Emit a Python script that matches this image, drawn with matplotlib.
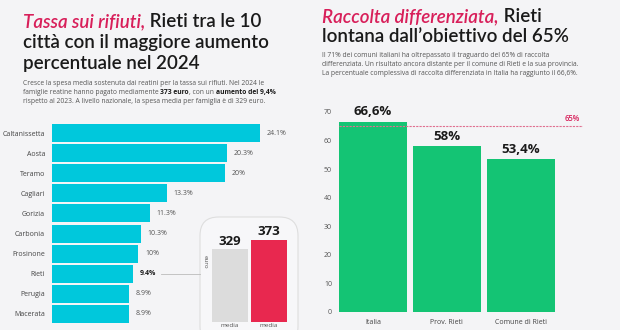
import matplotlib
matplotlib.use("Agg")
import matplotlib.pyplot as plt
from matplotlib.patches import FancyBboxPatch

# ---------------- data ----------------
cities = ["Caltanissetta", "Aosta", "Teramo", "Cagliari", "Gorizia",
          "Carbonia", "Frosinone", "Rieti", "Perugia", "Macerata"]
increase = [24.1, 20.3, 20.0, 13.3, 11.3, 10.3, 10.0, 9.4, 8.9, 8.9]
increase_labels = ["24.1%", "20.3%", "20%", "13.3%", "11.3%",
                   "10.3%", "10%", "9.4%", "8.9%", "8.9%"]

spend_cats = ["media", "media"]
spend_vals = [329, 373]

diff_cats = ["Italia", "Prov. Rieti", "Comune di Rieti"]
diff_vals = [66.6, 58.0, 53.4]
diff_labels = ["66,6%", "58%", "53,4%"]
target = 65
diff_ticks = [0, 10, 20, 30, 40, 50, 60, 70]

# ---------------- style ----------------
BG = "#f4f4f6"
CYAN = "#00c8dc"
GREEN = "#14c474"
RED = "#e8284f"
GREY = "#dcdcdc"
PINK = "#d81f5a"
FONT = ["Open Sans", "DejaVu Sans"]
TFONT = ["Lato", "DejaVu Sans"]
plt.rcParams["font.family"] = FONT

W, H = 620, 330
fig = plt.figure(figsize=(W / 100, H / 100), dpi=100, facecolor=BG)


def px_axes(x0, y0, x1, y1, z=1):
    """axes from pixel box (top-left origin)"""
    ax = fig.add_axes([x0 / W, 1 - y1 / H, (x1 - x0) / W, (y1 - y0) / H])
    ax.set_zorder(z)
    return ax


def fx(x):
    return x / W


def fy(y):
    return 1 - y / H


def seq(x, y, parts, size, family=FONT):
    last = None
    for s, kw in parts:
        if last is None:
            last = fig.text(fx(x), fy(y), s, fontsize=size, va="bottom", ha="left",
                            family=family, **kw)
        else:
            last = fig.add_artist(plt.Annotation(s, xy=(1, 0), xycoords=last, va="bottom",
                                                 ha="left", fontsize=size, family=family, **kw))


# ---------------- left titles ----------------
TSIZE = 13.5
TW = "semibold"
seq(23, 30, [("Tassa sui rifiuti,", dict(color=PINK, style="italic", weight=TW)),
             (" Rieti tra le 10", dict(color="#1a1a1a", weight=TW))], TSIZE, TFONT)
fig.text(fx(23), fy(51), "città con il maggiore aumento", fontsize=TSIZE, va="bottom",
         color="#1a1a1a", weight=TW, family=TFONT)
fig.text(fx(23), fy(72), "percentuale nel 2024", fontsize=TSIZE, va="bottom",
         color="#1a1a1a", weight=TW, family=TFONT)

SSIZE = 4.9
SC = "#555555"
fig.text(fx(23), fy(87), "Cresce la spesa media sostenuta dai reatini per la tassa sui rifiuti. Nel 2024 le",
         fontsize=SSIZE, va="bottom", color=SC)
seq(23, 96, [("famiglie reatine hanno pagato mediamente ", dict(color=SC)),
             ("373 euro", dict(color="#1a1a1a", weight="bold")),
             (", con un ", dict(color=SC)),
             ("aumento del 9,4%", dict(color="#1a1a1a", weight="bold"))], SSIZE)
fig.text(fx(23), fy(105), "rispetto al 2023. A livello nazionale, la spesa media per famiglia è di 329 euro.",
         fontsize=SSIZE, va="bottom", color=SC)

# ---------------- left bar chart ----------------
axL = px_axes(52, 123, 300, 324)
axL.set_facecolor("none")
ypos = list(range(len(cities)))
axL.barh(ypos, increase, height=0.9, color=CYAN)
axL.set_xlim(0, 248 / 8.63)
axL.set_ylim(len(cities) - 0.5, -0.5)
for sp in axL.spines.values():
    sp.set_visible(False)
axL.set_xticks([])
axL.set_yticks(ypos)
axL.set_yticklabels(cities, fontsize=5, color="#444444")
axL.tick_params(axis="y", length=0, pad=5)
for i, (v, lab) in enumerate(zip(increase, increase_labels)):
    bold = cities[i] == "Rieti"
    axL.text(v + 0.8, i, lab, fontsize=5, va="center", ha="left",
             color="#1a1a1a" if bold else "#555555", weight="bold" if bold else "normal")

# connector line
fig.add_artist(plt.Line2D([fx(161), fx(200)], [fy(274), fy(274)], color="#bbbbbb", lw=0.6))

# inset box
box = FancyBboxPatch((fx(200), fy(345)), fx(98), (345 - 217) / H,
                     boxstyle="round,pad=0,rounding_size=0.03", transform=fig.transFigure,
                     facecolor="#f7f7f9", edgecolor="#dedede", lw=0.8, mutation_aspect=W / H,
                     zorder=-1)
fig.add_artist(box)

axI = px_axes(211.3, 217, 287.7, 322, z=2)
axI.set_facecolor("none")
axI.bar([0, 1], spend_vals, width=0.92, color=[GREY, RED])
axI.set_xlim(-0.48, 1.48)
axI.set_ylim(0, 105 / 0.221)
axI.axis("off")
for i, v in enumerate(spend_vals):
    axI.text(i, v + 8, str(v), fontsize=9.5, weight="bold", ha="center", va="bottom",
             color="#1a1a1a")
fig.text(fx(205), fy(262), "euro", rotation=-90, fontsize=4.5, color="#555555",
         ha="center", va="center", zorder=3)
for i, c in enumerate(spend_cats):
    fig.text(fx(230 + 39 * i), fy(323), c, fontsize=4.6, color="#555555",
             ha="center", va="top", zorder=3)

# ---------------- right titles ----------------
seq(322, 25, [("Raccolta differenziata,", dict(color=PINK, style="italic", weight=TW)),
              (" Rieti", dict(color="#1a1a1a", weight=TW))], TSIZE, TFONT)
fig.text(fx(322), fy(45), "lontana dall’obiettivo del 65%", fontsize=TSIZE, va="bottom",
         color="#1a1a1a", weight=TW, family=TFONT)
fig.text(fx(322), fy(59), "Il 71% dei comuni italiani ha oltrepassato il traguardo del 65% di raccolta",
         fontsize=SSIZE, va="bottom", color=SC)
fig.text(fx(322), fy(68), "differenziata. Un risultato ancora distante per il comune di Rieti e la sua provincia.",
         fontsize=SSIZE, va="bottom", color=SC)
fig.text(fx(322), fy(77), "La percentuale complessiva di raccolta differenziata in Italia ha raggiunto il 66,6%.",
         fontsize=SSIZE, va="bottom", color=SC)

# ---------------- right bar chart ----------------
axR = px_axes(339, 112, 583, 312)
axR.set_facecolor("none")
xpos = list(range(len(diff_cats)))
axR.bar(xpos, diff_vals, width=0.91, color=GREEN)
axR.set_xlim(-0.458, 2.84)
axR.set_ylim(0, 70)
for sp in axR.spines.values():
    sp.set_visible(False)
axR.set_yticks(diff_ticks)
axR.set_yticklabels([str(t) for t in diff_ticks], fontsize=5, color="#555555")
axR.tick_params(axis="y", length=0, pad=5)
axR.set_xticks(xpos)
axR.set_xticklabels(diff_cats, fontsize=5, color="#444444")
axR.tick_params(axis="x", length=0, pad=5)
axR.axhline(target, color="#e07090", lw=0.8, ls=(0, (2, 1)), zorder=3)
axR.text(2.84 - 0.15, target + 1.2, f"{target}%", fontsize=5.5, color=PINK,
         ha="center", va="bottom", weight="semibold")
for i, (v, lab) in enumerate(zip(diff_vals, diff_labels)):
    axR.text(i, v + 1.3, lab, fontsize=9.5, weight="bold", ha="center", va="bottom",
             color="#1a1a1a")

fig.savefig("out.png", dpi=100, facecolor=BG)
